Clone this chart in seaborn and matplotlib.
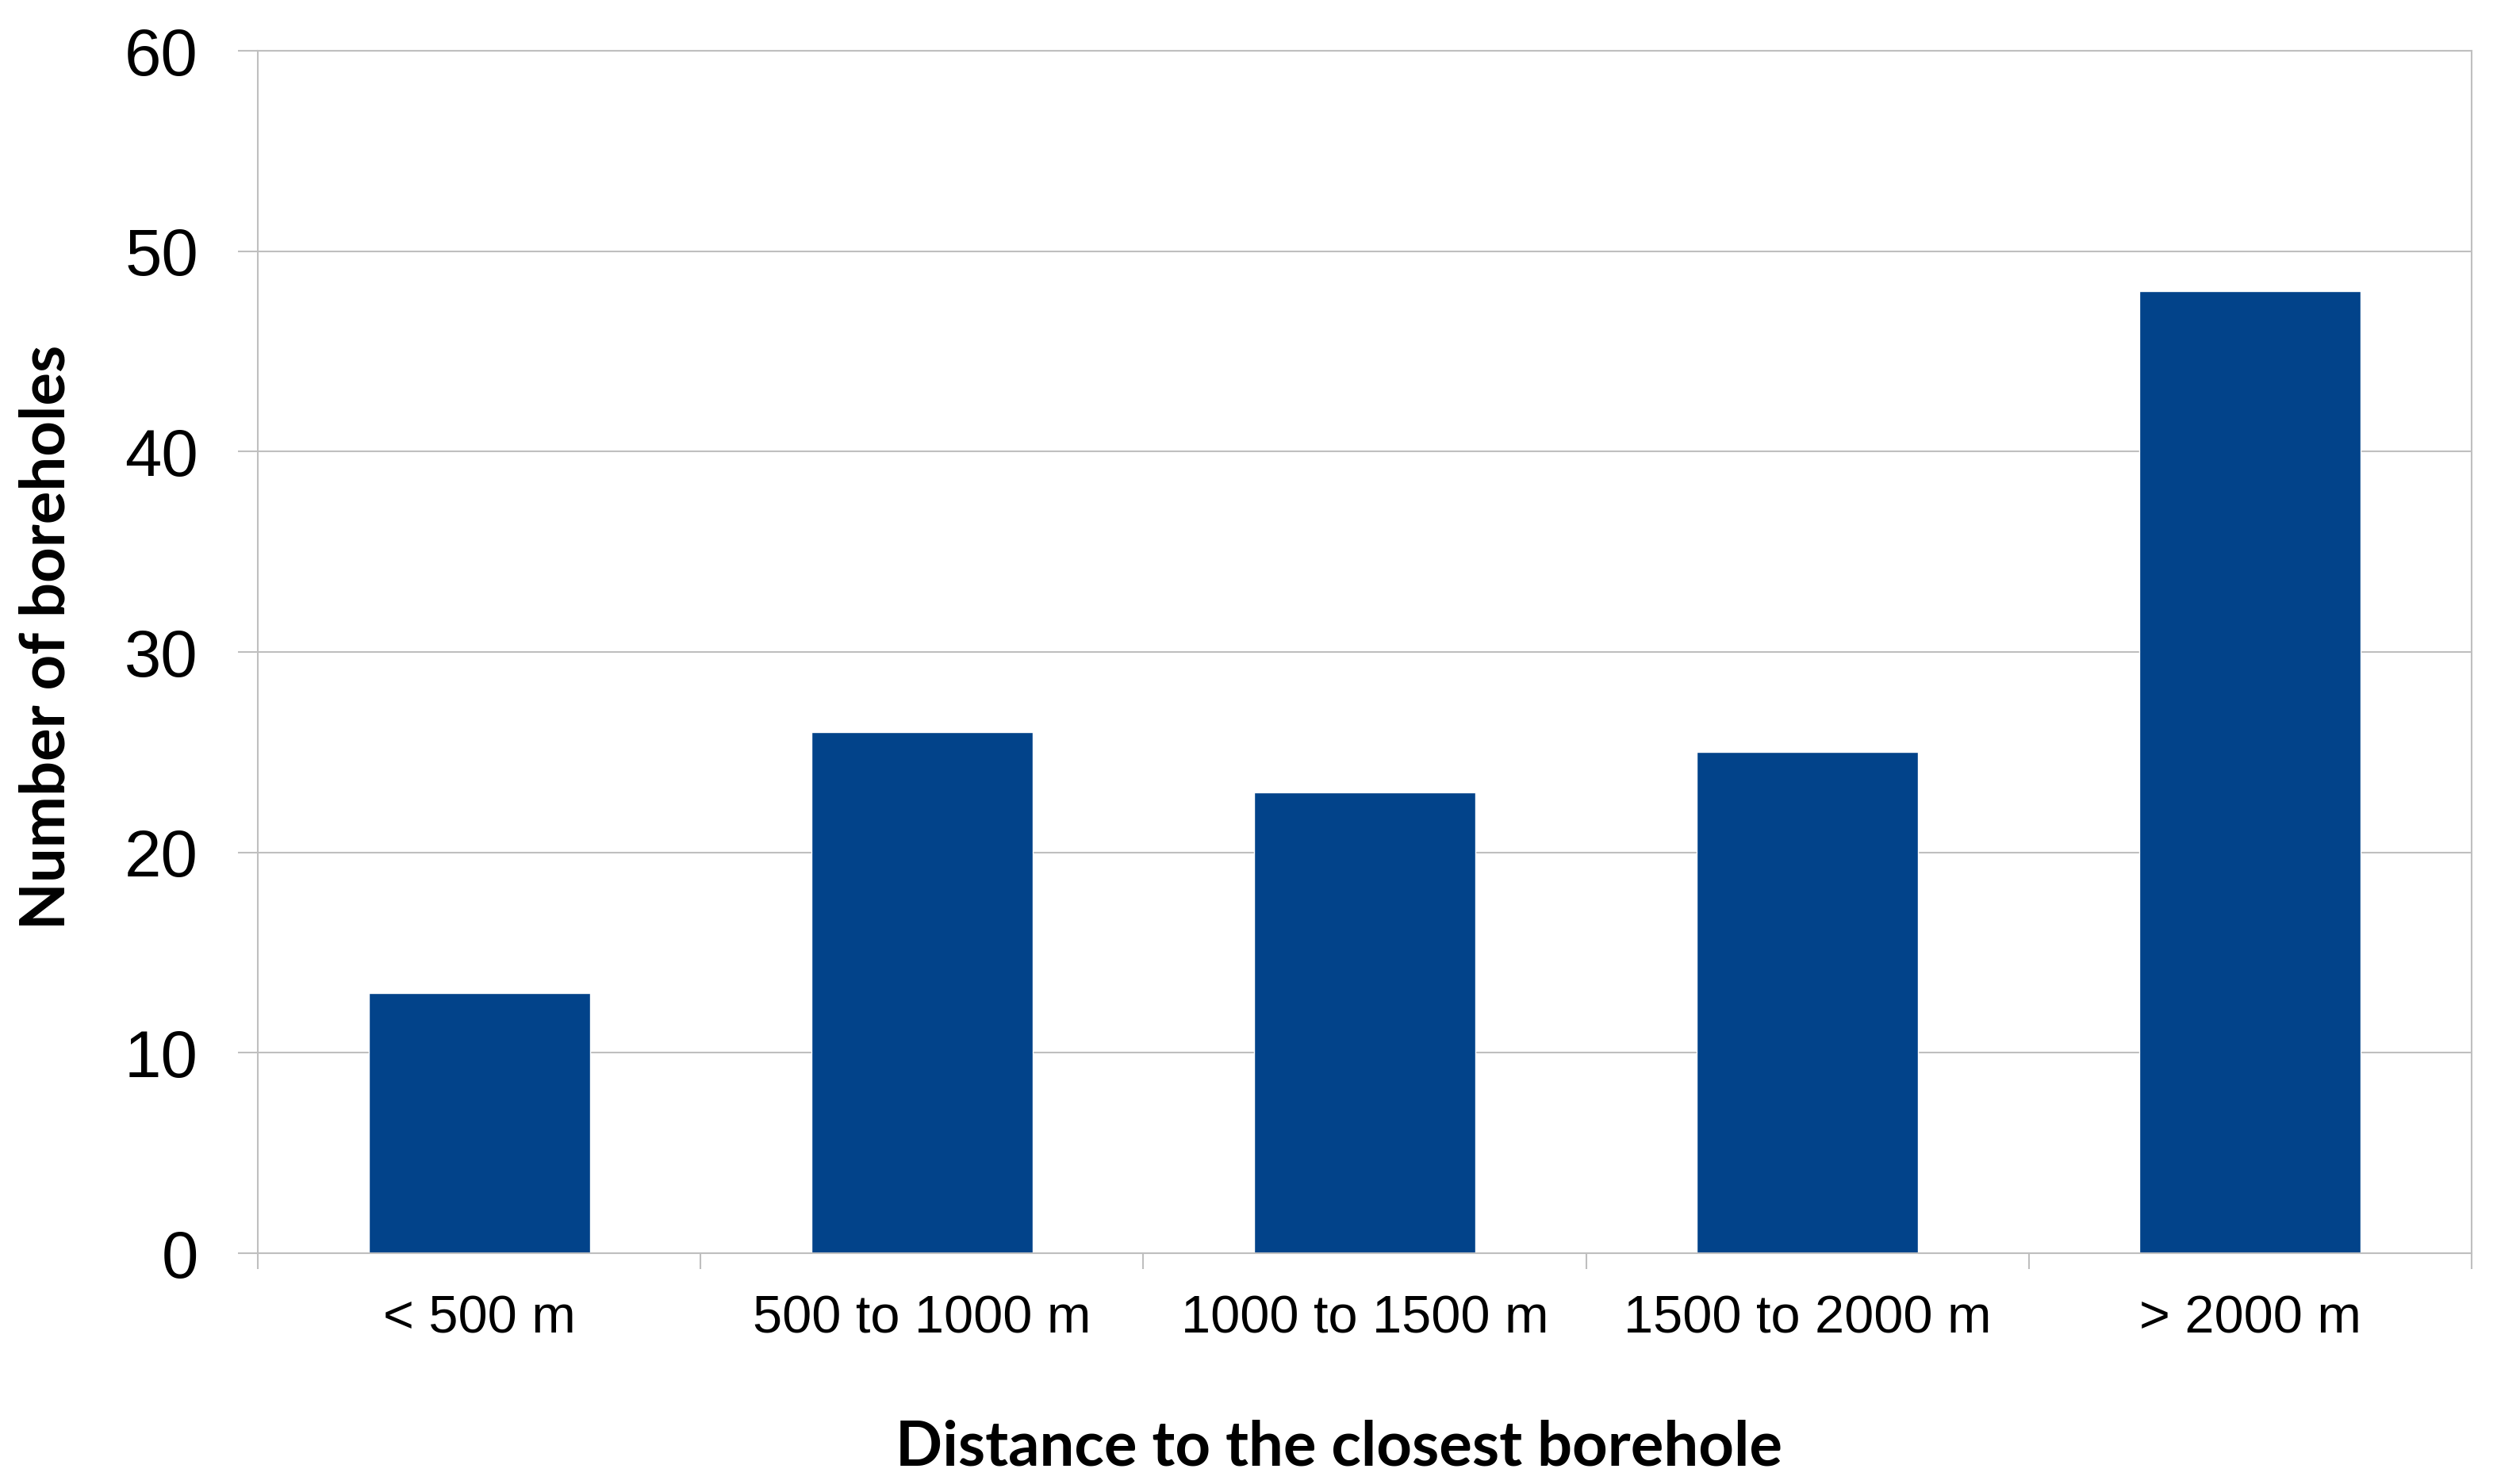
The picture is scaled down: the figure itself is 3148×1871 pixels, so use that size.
import pandas as pd
import matplotlib.pyplot as plt
import seaborn as sns

# Dados do gráfico
categorias = ["< 500 m", "500 to 1000 m", "1000 to 1500 m", "1500 to 2000 m", "> 2000 m"]
n_furos = [13, 26, 23, 25, 48]
y_ticks = [0, 10, 20, 30, 40, 50, 60]

df = pd.DataFrame({"distancia": categorias, "furos": n_furos})

sns.set_style("white")
plt.rcParams["font.family"] = ["Liberation Sans", "DejaVu Sans"]
plt.rcParams["text.color"] = "black"
plt.rcParams["axes.labelcolor"] = "black"

fig = plt.figure(figsize=(31.48, 18.71), dpi=100)
ax = fig.add_axes([0.10324, 0.15553, 0.88659, 0.81026])

sns.barplot(data=df, x="distancia", y="furos", color="#02438A",
            saturation=1, width=0.5, ax=ax)

# Eixo y e grade
ax.set_ylim(0, 60)
ax.set_yticks(y_ticks)
ax.grid(axis="y", color="#BFBFBF", linewidth=1.5)
ax.set_axisbelow(True)
ax.set_xlim(-0.5, len(categorias) - 0.5)

for s in ax.spines.values():
    s.set_visible(True)
    s.set_color("#BFBFBF")
    s.set_linewidth(1.5)

ax.tick_params(axis="y", which="major", length=18, width=1.5, color="#BFBFBF",
               pad=36, labelsize=60, left=True, labelcolor="black")
ax.tick_params(axis="x", which="major", length=0, pad=38, labelsize=48,
               labelcolor="black")

# Marcas entre as categorias
ax.set_xticks([i - 0.5 for i in range(len(categorias) + 1)], minor=True)
ax.tick_params(axis="x", which="minor", length=14.4, width=1.5,
               color="#BFBFBF", bottom=True)

# Rótulos dos eixos
ax.set_xlabel("Distance to the closest borehole", fontsize=56,
              fontweight="bold", family=["Lato", "DejaVu Sans"], color="black")
ax.set_ylabel("Number of boreholes", fontsize=56,
              fontweight="bold", family=["Lato", "DejaVu Sans"], color="black")
ax.xaxis.set_label_coords(0.4882, -0.138)
ax.yaxis.set_label_coords(-0.0822, 0.5125)

fig.savefig("out.png", dpi=100)
